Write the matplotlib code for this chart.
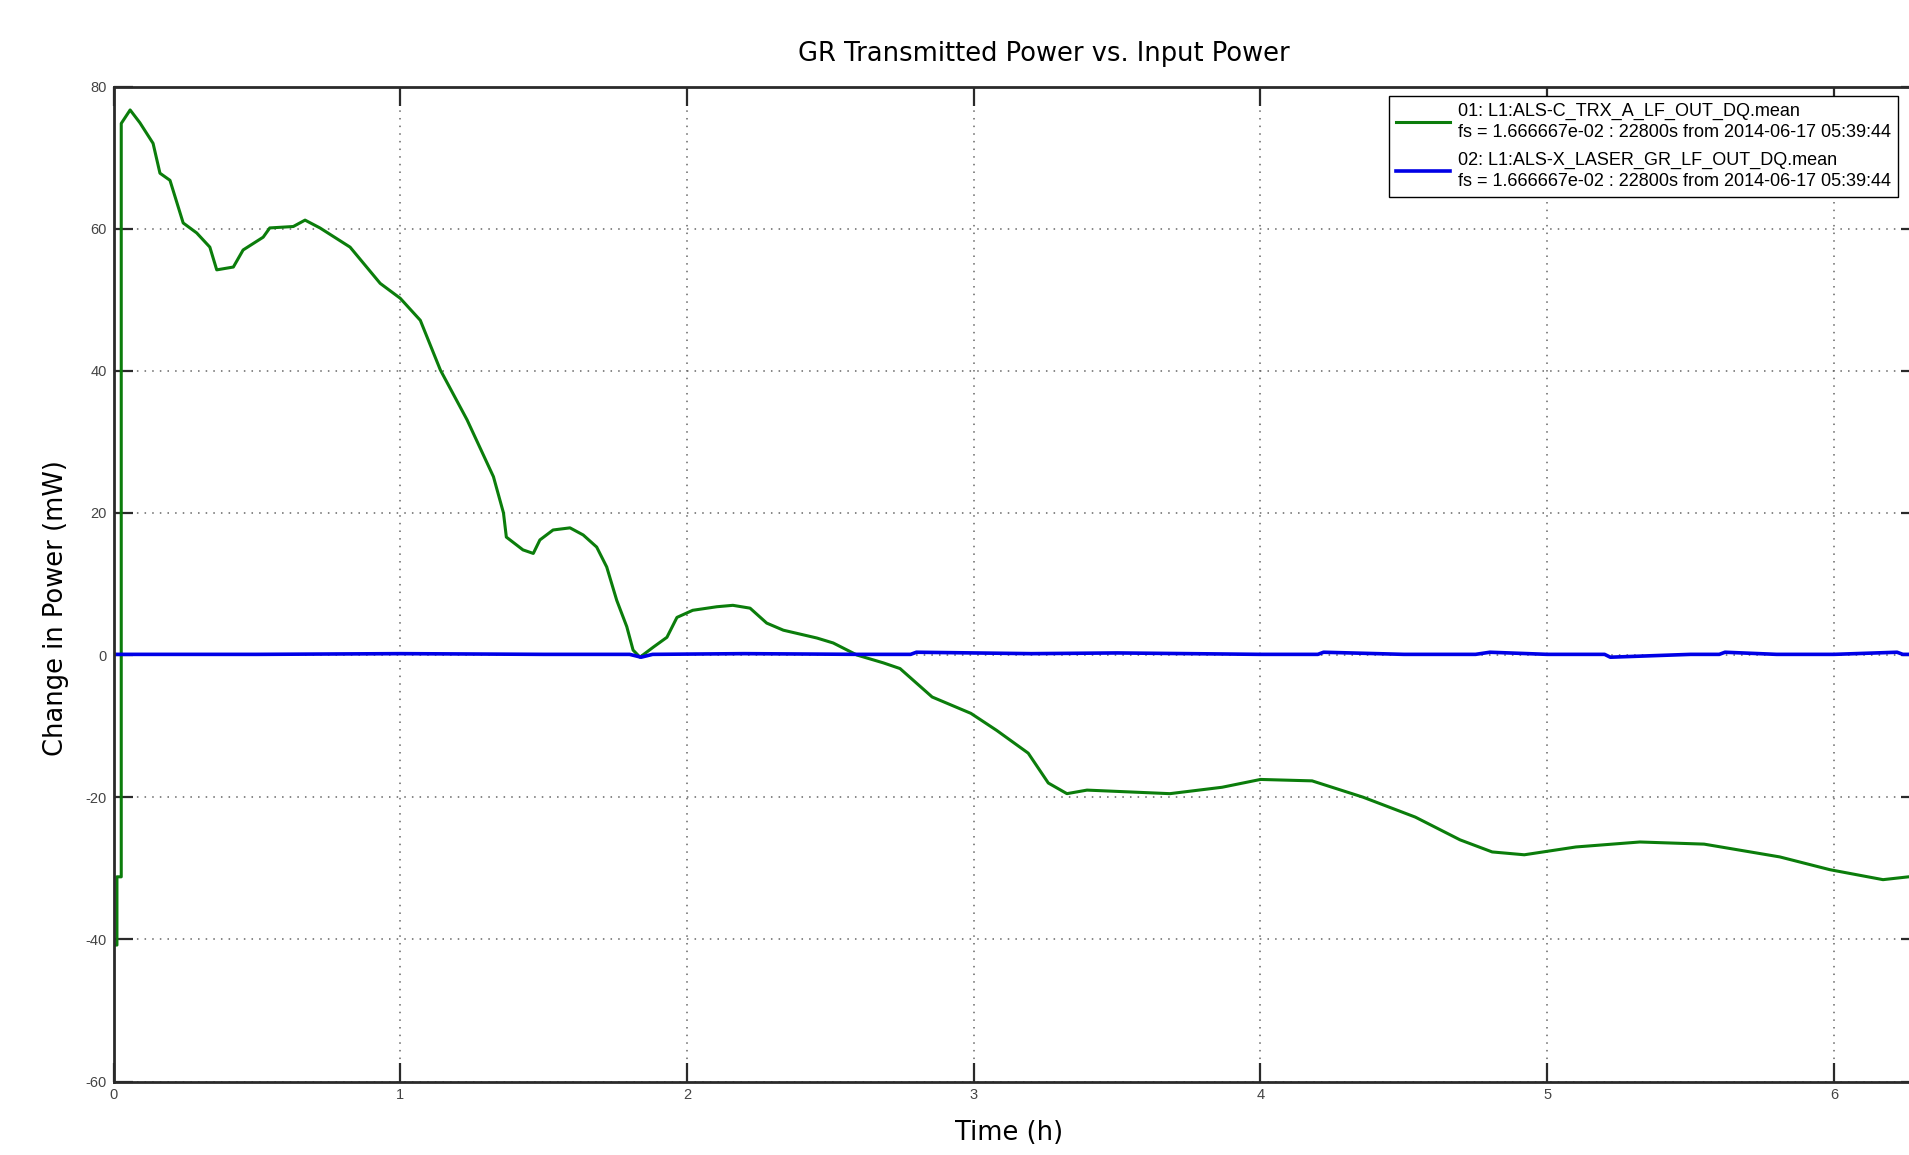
import matplotlib
matplotlib.use("Agg")
import matplotlib.pyplot as plt

plt.rcParams["axes.unicode_minus"] = False

# green channel: transmitted GR power (time in hours, change in mW)
trx_t = [0.0, 0.012, 0.012, 0.027, 0.027, 0.058, 0.092, 0.138, 0.162, 0.197,
         0.243, 0.29, 0.336, 0.36, 0.418, 0.452, 0.522, 0.545, 0.627, 0.668,
         0.72, 0.825, 0.93, 1.0, 1.07, 1.14, 1.233, 1.325, 1.36, 1.37,
         1.428, 1.464, 1.487, 1.533, 1.592, 1.638, 1.685, 1.72, 1.755, 1.79,
         1.812, 1.836, 1.882, 1.93, 1.965, 2.02, 2.104, 2.16, 2.22, 2.278,
         2.336, 2.453, 2.51, 2.593, 2.685, 2.743, 2.855, 2.99, 3.08, 3.19,
         3.26, 3.325, 3.395, 3.684, 3.866, 4.0, 4.18, 4.358, 4.54, 4.696,
         4.808, 4.92, 5.1, 5.323, 5.547, 5.811, 5.986, 6.171, 6.26, 6.33]
trx_v = [-40.8, -40.8, -31.2, -31.2, 74.8, 76.7, 74.9, 72.0, 67.8, 66.8,
         60.8, 59.4, 57.4, 54.2, 54.6, 57.0, 58.8, 60.1, 60.3, 61.2,
         60.1, 57.4, 52.3, 50.2, 47.1, 40.1, 33.1, 25.1, 20.0, 16.6,
         14.8, 14.3, 16.2, 17.6, 17.9, 16.9, 15.2, 12.4, 7.7, 4.0,
         0.7, -0.3, 1.1, 2.5, 5.3, 6.3, 6.8, 7.0, 6.6, 4.5,
         3.5, 2.4, 1.7, 0.0, -1.1, -1.9, -5.9, -8.2, -10.6, -13.8,
         -18.0, -19.5, -19.0, -19.5, -18.6, -17.5, -17.7, -20.0, -22.8, -26.0,
         -27.7, -28.1, -27.0, -26.3, -26.6, -28.4, -30.2, -31.6, -31.2, -31.0]

# blue channel: input laser power, essentially flat
laser_t = [0.0, 0.5, 1.0, 1.5, 1.8, 1.84, 1.88, 2.2, 2.6, 2.78, 2.8, 3.2,
           3.5, 4.0, 4.2, 4.22, 4.5, 4.75, 4.8, 5.0, 5.2, 5.22, 5.5, 5.6,
           5.62, 5.8, 6.0, 6.22, 6.24, 6.33]
laser_v = [0.1, 0.1, 0.2, 0.1, 0.1, -0.3, 0.1, 0.2, 0.1, 0.1, 0.4, 0.2,
           0.3, 0.1, 0.1, 0.4, 0.1, 0.1, 0.4, 0.1, 0.1, -0.3, 0.1, 0.1,
           0.4, 0.1, 0.1, 0.4, 0.1, 0.1]

labels = ["01: L1:ALS-C_TRX_A_LF_OUT_DQ.mean\n"
          "fs = 1.666667e-02 : 22800s from 2014-06-17 05:39:44",
          "02: L1:ALS-X_LASER_GR_LF_OUT_DQ.mean\n"
          "fs = 1.666667e-02 : 22800s from 2014-06-17 05:39:44"]
xticks = [0, 1, 2, 3, 4, 5, 6]
yticks = [-60, -40, -20, 0, 20, 40, 60, 80]

W, H = 1909, 1155
fig = plt.figure(figsize=(W / 100, H / 100), dpi=100)
ax = fig.add_axes([113.5 / W, 1 - 1081.5 / H, (1920 - 113.5) / W, 995 / H])

l1, = ax.plot(trx_t, trx_v, color="#0b7d0b", lw=2.2)
l2, = ax.plot(laser_t, laser_v, color="#0000e6", lw=2.6)

ax.set_xlim(0, 6.3)
ax.set_ylim(-60, 80)
ax.set_xticks(xticks)
ax.set_yticks(yticks)
ax.grid(True, linestyle=(0, (1, 4)), color="#666666", lw=1.1)
for s in ax.spines.values():
    s.set_linewidth(2.0)
    s.set_color("#2a2a2a")
ax.tick_params(direction="in", length=14, width=1.6, top=True, right=True,
               labelsize=10.5, labelcolor="#444444", color="#2a2a2a", pad=5)
for lab in ax.get_xticklabels() + ax.get_yticklabels():
    lab.set_fontfamily("Liberation Sans")

fig.text(1044 / W, 1 - 54 / H, "GR Transmitted Power vs. Input Power",
         ha="center", va="center", fontsize=18.5)
fig.text(1009 / W, 1 - 1133 / H, "Time (h)", ha="center", va="center",
         fontsize=18.5)
fig.text(56 / W, 1 - 608 / H, "Change in Power (mW)", ha="center",
         va="center", rotation=90, fontsize=18.5)

leg = ax.legend([l1, l2], labels, loc="upper left",
                bbox_to_anchor=(1389 / W, 1 - 96 / H),
                bbox_transform=fig.transFigure, borderaxespad=0,
                fancybox=False, edgecolor="black", framealpha=1,
                borderpad=0.4, handlelength=3.0, handletextpad=0.4,
                labelspacing=0.6,
                prop={"family": "Liberation Sans", "size": 13})
leg.get_frame().set_linewidth(1.0)
for t in leg.get_texts():
    t.set_linespacing(1.3)

fig.savefig("out.png", dpi=100)
